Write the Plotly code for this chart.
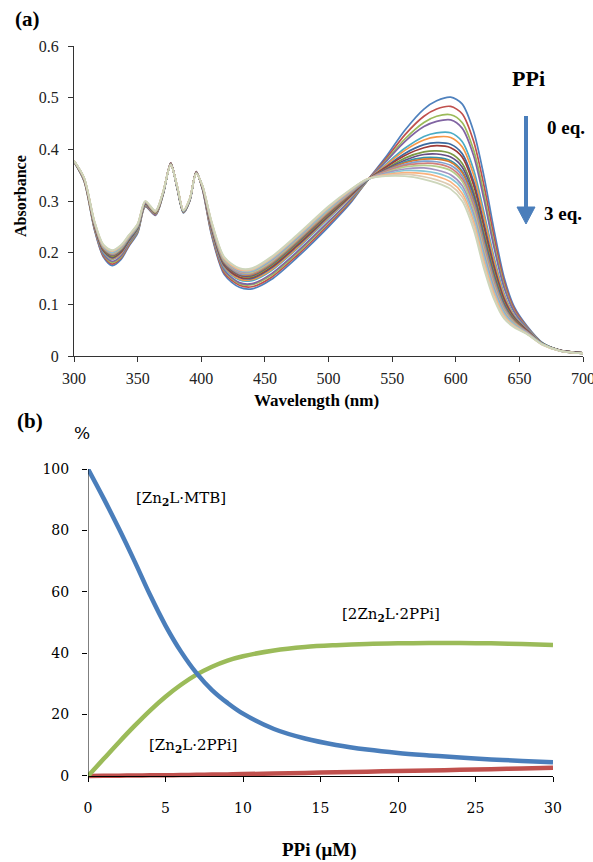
import plotly.graph_objects as go

W, H = 593, 862

# ---------------- Panel (a): UV-vis titration spectra ----------------
wavelength = [300, 308, 316, 323, 330, 337, 343, 350, 356, 364, 370, 376, 381, 386, 391,
              396, 401, 408, 418, 430, 440, 455, 475, 500, 517, 530, 545, 560, 575, 585,
              596, 605, 614, 622, 630, 638, 646, 656, 668, 682, 700]

abs_00 = [.376,.338,.245,.192,.175,.187,.212,.238,.289,.272,.312,.374,.325,.277,.300,.357,.322,.235,.158,.133,.130,.148,.190,.250,.295,.338,.385,.437,.478,.494,.501,.488,.435,.350,.245,.152,.095,.058,.026,.011,.006]
abs_01 = [.376,.339,.247,.194,.178,.190,.214,.240,.290,.273,.313,.374,.326,.278,.301,.357,.323,.238,.161,.137,.134,.152,.194,.254,.298,.338,.381,.428,.464,.478,.483,.469,.416,.332,.232,.144,.091,.056,.025,.011,.006]
abs_02 = [.376,.339,.248,.197,.181,.192,.216,.241,.291,.274,.313,.373,.326,.278,.301,.356,.324,.240,.165,.140,.138,.156,.198,.258,.300,.338,.378,.420,.452,.464,.467,.452,.399,.316,.219,.137,.087,.055,.025,.011,.006]
abs_03 = [.376,.340,.249,.198,.183,.194,.218,.243,.292,.274,.314,.373,.326,.278,.301,.356,.324,.242,.167,.142,.140,.159,.201,.260,.302,.339,.376,.415,.444,.454,.457,.441,.388,.305,.211,.132,.085,.054,.025,.011,.006]
abs_04 = [.377,.341,.252,.201,.187,.198,.221,.245,.293,.276,.314,.372,.327,.279,.302,.355,.325,.246,.171,.147,.146,.165,.207,.266,.306,.339,.371,.402,.425,.432,.432,.415,.361,.280,.192,.121,.079,.052,.025,.011,.006]
abs_05 = [.377,.341,.252,.203,.188,.199,.222,.246,.294,.276,.315,.372,.327,.279,.302,.355,.326,.247,.173,.149,.148,.167,.209,.268,.307,.339,.369,.398,.418,.424,.423,.405,.351,.271,.186,.117,.077,.051,.024,.011,.006]
abs_06 = [.377,.342,.254,.204,.190,.201,.223,.247,.295,.277,.315,.372,.328,.280,.303,.355,.326,.249,.175,.152,.150,.170,.212,.270,.309,.339,.366,.392,.409,.413,.410,.392,.338,.258,.176,.111,.075,.050,.024,.011,.006]
abs_07 = [.377,.342,.254,.205,.192,.202,.224,.248,.295,.277,.315,.372,.328,.280,.303,.355,.326,.250,.177,.153,.152,.172,.214,.272,.310,.340,.365,.388,.403,.407,.403,.385,.331,.251,.171,.108,.073,.049,.024,.011,.006]
abs_08 = [.377,.342,.255,.207,.193,.204,.225,.249,.296,.277,.316,.372,.328,.280,.303,.355,.327,.252,.179,.156,.154,.175,.217,.274,.312,.340,.362,.383,.395,.397,.392,.373,.319,.240,.163,.103,.071,.048,.024,.011,.006]
abs_09 = [.377,.343,.256,.208,.195,.205,.226,.250,.296,.278,.316,.371,.328,.280,.303,.354,.327,.253,.180,.157,.156,.177,.219,.276,.313,.340,.361,.379,.390,.391,.385,.366,.312,.233,.157,.100,.069,.048,.024,.011,.006]
abs_10 = [.377,.343,.257,.209,.196,.206,.227,.250,.297,.278,.316,.371,.328,.280,.303,.354,.328,.254,.182,.159,.158,.178,.220,.278,.314,.340,.359,.376,.384,.384,.378,.358,.304,.226,.152,.097,.067,.047,.024,.010,.005]
abs_11 = [.377,.343,.257,.209,.196,.207,.228,.251,.297,.278,.316,.371,.329,.281,.304,.354,.328,.254,.182,.159,.158,.179,.221,.278,.314,.340,.359,.374,.381,.381,.375,.355,.300,.222,.149,.095,.067,.047,.024,.010,.005]
abs_12 = [.377,.343,.258,.210,.197,.208,.228,.251,.297,.279,.316,.371,.329,.281,.304,.354,.328,.255,.183,.160,.160,.181,.223,.280,.315,.340,.358,.371,.377,.376,.369,.349,.294,.217,.145,.093,.065,.046,.023,.010,.005]
abs_13 = [.378,.343,.258,.211,.198,.209,.229,.252,.298,.279,.317,.371,.329,.281,.304,.354,.328,.256,.184,.162,.161,.182,.224,.281,.316,.341,.357,.369,.373,.372,.364,.343,.289,.211,.141,.090,.064,.046,.023,.010,.005]
abs_14 = [.378,.344,.259,.211,.199,.209,.230,.252,.298,.279,.317,.371,.329,.281,.304,.354,.328,.257,.185,.163,.162,.183,.225,.282,.317,.341,.355,.366,.369,.367,.359,.338,.283,.206,.137,.088,.063,.045,.023,.010,.005]
abs_15 = [.378,.344,.259,.212,.200,.211,.231,.253,.298,.280,.317,.371,.329,.281,.304,.354,.329,.258,.187,.164,.164,.185,.227,.284,.318,.341,.354,.362,.364,.360,.351,.330,.275,.199,.132,.085,.061,.045,.023,.010,.005]
abs_16 = [.378,.344,.260,.213,.201,.212,.231,.254,.299,.280,.317,.370,.329,.281,.304,.353,.329,.259,.188,.166,.165,.187,.229,.285,.319,.341,.352,.359,.358,.354,.344,.323,.268,.192,.126,.082,.060,.044,.023,.010,.005]
abs_17 = [.378,.344,.261,.214,.203,.213,.232,.255,.299,.280,.318,.370,.330,.282,.305,.353,.329,.260,.189,.167,.167,.189,.231,.287,.320,.342,.351,.355,.353,.348,.337,.315,.260,.184,.121,.078,.058,.043,.022,.010,.005]
abs_18 = [.378,.345,.261,.215,.204,.214,.233,.255,.300,.281,.318,.370,.330,.282,.305,.353,.330,.261,.191,.169,.168,.190,.232,.288,.321,.342,.349,.352,.347,.341,.330,.308,.253,.177,.115,.075,.057,.043,.022,.010,.005]
abs_19 = [.378,.345,.262,.216,.205,.215,.234,.256,.300,.281,.318,.370,.330,.282,.305,.353,.330,.262,.192,.170,.170,.192,.234,.290,.322,.342,.348,.348,.342,.335,.323,.300,.245,.170,.110,.072,.055,.042,.022,.010,.005]

spectra = [abs_00, abs_01, abs_02, abs_03, abs_04, abs_05, abs_06, abs_07, abs_08, abs_09,
           abs_10, abs_11, abs_12, abs_13, abs_14, abs_15, abs_16, abs_17, abs_18, abs_19]

spectrum_colors = ["#4F81BD", "#C0504D", "#9BBB59", "#8064A2", "#4BACC6", "#F79646",
                   "#3B6AA0", "#9E3B38", "#7D9A45", "#654E85", "#3592AA", "#D8782E",
                   "#7EA1CF", "#D17E7C", "#B5CC8A", "#A592C0", "#87C7D8", "#FAB27D",
                   "#DCCBB3", "#CDD6BB"]

wl_ticks = [300, 350, 400, 450, 500, 550, 600, 650, 700]
abs_ticks = [0, 0.1, 0.2, 0.3, 0.4, 0.5, 0.6]

# ---------------- Panel (b): species distribution ----------------
ppi_uM = [0, 1, 2, 3, 4, 5, 6, 7, 8, 9, 10, 12, 14, 16, 18, 20, 22, 24, 26, 28, 30]
pct_Zn2L_MTB = [100, 90.5, 80.5, 70, 59, 49, 40.5, 33.5, 28, 23.8, 20.3, 15.3, 12.2, 10.1, 8.6, 7.5, 6.7, 6.0, 5.4, 4.9, 4.5]
pct_2Zn2L_2PPi = [0, 5.5, 11, 16.3, 21.3, 25.8, 29.7, 33, 35.6, 37.6, 39, 40.9, 42, 42.6, 43, 43.2, 43.3, 43.3, 43.2, 43.0, 42.7]
pct_Zn2L_2PPi = [0, 0.05, 0.1, 0.15, 0.2, 0.25, 0.3, 0.4, 0.45, 0.5, 0.6, 0.8, 1.0, 1.2, 1.4, 1.6, 1.8, 2.0, 2.2, 2.45, 2.7]

ppi_ticks = [0, 5, 10, 15, 20, 25, 30]
pct_ticks = [0, 20, 40, 60, 80, 100]


def px(x):
    return x / W


def py(y):
    return 1 - y / H


fig = go.Figure()

for vals, col in zip(spectra, spectrum_colors):
    fig.add_trace(go.Scatter(x=wavelength, y=vals, mode="lines",
                             line=dict(color=col, width=1.7, shape="spline", smoothing=0.8),
                             xaxis="x", yaxis="y", showlegend=False, hoverinfo="skip"))

fig.add_trace(go.Scatter(x=ppi_uM, y=pct_Zn2L_2PPi, mode="lines",
                         line=dict(color="#C0504D", width=4.5, shape="spline"),
                         xaxis="x2", yaxis="y2", showlegend=False))
fig.add_trace(go.Scatter(x=ppi_uM, y=pct_2Zn2L_2PPi, mode="lines",
                         line=dict(color="#9BBB59", width=4.5, shape="spline"),
                         xaxis="x2", yaxis="y2", showlegend=False))
fig.add_trace(go.Scatter(x=ppi_uM, y=pct_Zn2L_MTB, mode="lines",
                         line=dict(color="#4A7EBB", width=4.5, shape="spline"),
                         xaxis="x2", yaxis="y2", showlegend=False))

serif = "Liberation Serif, Times New Roman, serif"
serif_b = "DejaVu Serif, serif"

axis_a = dict(showline=True, linecolor="#333", linewidth=1, ticks="outside", ticklen=5,
              tickcolor="#333", showgrid=False, zeroline=False, automargin=False,
              ticklabeloverflow="allow",
              tickfont=dict(family=serif, size=16, color="#222"))

fig.update_layout(
    template="none",
    width=W, height=H, margin=dict(l=0, r=0, t=0, b=0, pad=0, autoexpand=False),
    paper_bgcolor="white", plot_bgcolor="white",
    xaxis=dict(axis_a, domain=[px(74), px(583)], range=[300, 700], tickvals=wl_ticks,
               anchor="y", ticklabelstandoff=3),
    yaxis=dict(axis_a, domain=[py(356), py(46)], range=[0, 0.6], tickvals=abs_ticks,
               anchor="x", ticklabelstandoff=6),
    xaxis2=dict(showline=True, linecolor="black", linewidth=1, ticks="outside", ticklen=5,
                tickcolor="black", showgrid=False, zeroline=False, automargin=False,
                ticklabeloverflow="allow",
                domain=[px(88), px(553)], range=[0, 30], tickvals=ppi_ticks,
                anchor="free", position=py(776), ticklabelstandoff=14,
                tickfont=dict(family=serif_b, size=14, color="black")),
    yaxis2=dict(showline=False, ticks="outside", ticklen=5, tickcolor="black",
                showgrid=False, zeroline=False, automargin=False,
                ticklabeloverflow="allow",
                domain=[py(782.1), py(469)], range=[-2, 100], tickvals=pct_ticks,
                anchor="x2", ticklabelstandoff=10,
                tickfont=dict(family=serif_b, size=14, color="black")),
)

# y-axis line for panel (b), from 0 to 100
fig.add_shape(type="line", xref="x2", yref="y2", x0=0, x1=0, y0=0, y1=100,
              line=dict(color="black", width=1))

# arrow (0 eq. -> 3 eq.)
arrow_col = "#4A7EBB"
fig.add_shape(type="line", xref="paper", yref="paper", x0=px(526), x1=px(526),
              y0=py(116), y1=py(209), line=dict(color=arrow_col, width=4))
fig.add_shape(type="path", xref="paper", yref="paper",
              path=f"M {px(517)},{py(207)} L {px(535)},{py(207)} L {px(526)},{py(224)} Z",
              fillcolor=arrow_col, line=dict(color=arrow_col, width=1))


def ann(text, x, y, size, family=serif, bold=False, angle=0, color="black"):
    t = f"<b>{text}</b>" if bold else text
    fig.add_annotation(text=t, xref="paper", yref="paper", x=px(x), y=py(y),
                       xanchor="center", yanchor="middle", showarrow=False,
                       textangle=angle, font=dict(family=family, size=size, color=color))


ann("(a)", 27, 19, 21, bold=True)
ann("(b)", 30, 421, 21, bold=True)
ann("Absorbance", 20, 196, 16, bold=True, angle=-90)
ann("Wavelength (nm)", 316, 400, 17, bold=True)
ann("PPi (μM)", 319, 850, 19, bold=True)
ann("PPi", 528, 78, 22, bold=True)
ann("0 eq.", 566, 127, 19, bold=True)
ann("3 eq.", 563, 214, 19, bold=True)
ann("%", 82, 433, 17, family=serif_b)
ann("[Zn<sub><b>2</b></sub>L·MTB]", 181, 498, 15, family=serif_b)
ann("[2Zn<sub><b>2</b></sub>L·2PPi]", 391, 614, 15, family=serif_b)
ann("[Zn<sub><b>2</b></sub>L·2PPi]", 193, 745, 15, family=serif_b)

fig.write_html("out.html",
               config={"displayModeBar": False},
               post_script="document.body.style.margin='0';"
                           "document.body.style.overflow='hidden';")
